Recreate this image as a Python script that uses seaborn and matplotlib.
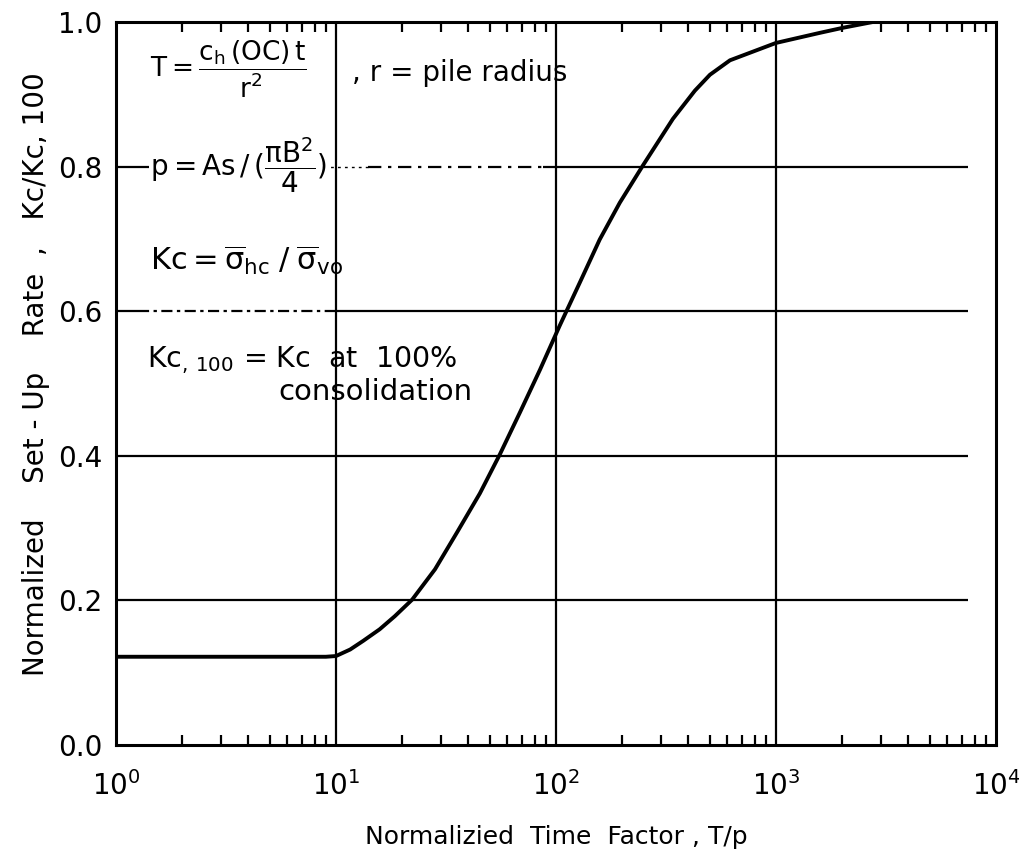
import matplotlib
matplotlib.use("Agg")
import matplotlib.pyplot as plt
import seaborn as sns
import numpy as np
from matplotlib.ticker import FixedLocator, LogLocator, NullFormatter

# ---- data ----
time_factor = [1, 3, 6, 9, 10, 11.6, 13.3, 15.8, 18.5, 22.2, 28.2, 35.5, 45.1,
               55.6, 68.6, 84.6, 104, 129, 158, 195, 249, 340, 428, 501, 618,
               1000, 1585, 2018, 2760, 3200]
setup_rate = [0.122, 0.122, 0.122, 0.122, 0.123, 0.132, 0.144, 0.160, 0.178,
              0.201, 0.243, 0.294, 0.348, 0.402, 0.460, 0.519, 0.580, 0.641,
              0.699, 0.750, 0.802, 0.866, 0.905, 0.927, 0.947, 0.971, 0.985,
              0.992, 1.000, 1.000]

x_ticks = [1, 10, 100, 1000, 10000]
x_ticklabels = [r"$10^0$", r"$10^1$", r"$10^2$", r"$10^3$", r"$10^4$"]
y_ticks = [0.0, 0.2, 0.4, 0.6, 0.8, 1.0]
y_ticklabels = ["0.0", "0.2", "0.4", "0.6", "0.8", "1.0"]
grid_y = [0.2, 0.4, 0.6, 0.8]
grid_x = [10, 100, 1000]

sns.set_style("ticks")
plt.rcParams["font.family"] = ["DejaVu Sans"]
plt.rcParams["mathtext.default"] = "regular"
for k in ["text.color", "axes.labelcolor", "xtick.color", "ytick.color",
          "axes.edgecolor"]:
    plt.rcParams[k] = "black"

fig = plt.figure(figsize=(10.19, 8.55), dpi=100)
ax = fig.add_axes([0.1138, 0.1287, 0.8636, 0.8456])
ax.set_xscale("log")
ax.set_xlim(1, 10000)
ax.set_ylim(0, 1.0)

# grid lines
lw_grid = 1.6
for gx in grid_x:
    ax.axvline(gx, color="black", lw=lw_grid, zorder=1)
for gy in grid_y:
    if gy == 0.8:
        ax.hlines(gy, 1, 10 ** 0.155, color="black", lw=lw_grid, zorder=1)
        ax.hlines(gy, 10 ** 0.155, 10 ** 1.145, color="black", lw=1.0,
                  linestyles=(0, (2, 3)), zorder=1)
        ax.hlines(gy, 10 ** 1.145, 10 ** 1.94, color="black", lw=lw_grid,
                  linestyles=(0, (6, 3, 1.5, 3)), zorder=1)
        ax.hlines(gy, 10 ** 1.94, 7460, color="black", lw=lw_grid, zorder=1)
    elif gy == 0.6:
        ax.hlines(gy, 1, 10 ** 0.1, color="black", lw=lw_grid, zorder=1)
        ax.hlines(gy, 10 ** 0.1, 10, color="black", lw=lw_grid,
                  linestyles=(0, (5, 2, 1.5, 2)), zorder=1)
        ax.hlines(gy, 10, 7460, color="black", lw=lw_grid, zorder=1)
    else:
        ax.hlines(gy, 1, 7460, color="black", lw=lw_grid, zorder=1)

sns.lineplot(x=time_factor, y=setup_rate, ax=ax, color="black", lw=2.8,
             zorder=3, estimator=None, sort=True)

for s in ax.spines.values():
    s.set_linewidth(2.2)
    s.set_color("black")

ax.xaxis.set_major_locator(FixedLocator(x_ticks))
ax.set_xticklabels(x_ticklabels)
ax.xaxis.set_minor_locator(LogLocator(base=10, subs=np.arange(2, 10), numticks=20))
ax.xaxis.set_minor_formatter(NullFormatter())
ax.tick_params(axis="x", which="major", length=0, pad=19, labelsize=20)
ax.tick_params(axis="x", which="minor", direction="in", top=True, bottom=True,
               length=7.5, width=1.6, color="black")
ax.set_yticks(y_ticks)
ax.set_yticklabels(y_ticklabels)
ax.tick_params(axis="y", which="both", length=0, pad=10, labelsize=20)

ax.set_xlabel("Normalizied  Time  Factor , T/p", fontsize=18, labelpad=17)
ax.set_ylabel("Normalized    Set - Up    Rate  ,   Kc/Kc, 100", fontsize=20)
ax.yaxis.set_label_coords(-0.075, 0.513)

# annotations
ax.text(0.039, 0.934, r"$T=\dfrac{c_h\,(OC)\,t}{r^2}$", transform=ax.transAxes,
        fontsize=19, va="center", ha="left", zorder=4)
ax.text(0.268, 0.929, ", r = pile radius", transform=ax.transAxes,
        fontsize=20, va="center", ha="left", zorder=4)
ax.text(0.039, 0.802, r"$p = As\,/\,(\dfrac{\pi B^2}{4})$", transform=ax.transAxes,
        fontsize=20, va="center", ha="left", zorder=4,
        bbox=dict(facecolor="white", edgecolor="none", pad=0.5))
ax.text(0.039, 0.671, r"$Kc = \overline{\sigma}_{hc}\;/\;\overline{\sigma}_{vo}$",
        transform=ax.transAxes, fontsize=22, va="center", ha="left", zorder=4)
ax.text(0.035, 0.5325, r"Kc$_{,\,100}$ = Kc  at  100%", transform=ax.transAxes,
        fontsize=20.5, va="center", ha="left", zorder=4)
ax.text(0.184, 0.488, "consolidation", transform=ax.transAxes,
        fontsize=21, va="center", ha="left", zorder=4)

fig.savefig("out.png", dpi=100, facecolor="white")
